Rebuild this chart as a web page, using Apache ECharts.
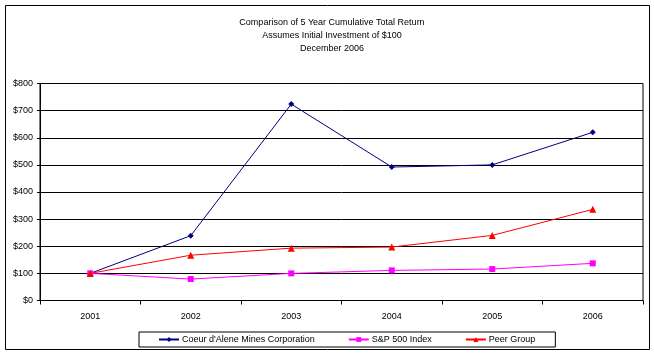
<!DOCTYPE html>
<html>
<head>
<meta charset="utf-8">
<script src="https://cdn.jsdelivr.net/npm/echarts@6/dist/echarts.min.js"></script>
<style>
html,body{margin:0;padding:0;background:#fff;}
#c{width:654px;height:354px;}
</style>
</head>
<body>
<div id="c"></div>
<script>
const categories = ['2001', '2002', '2003', '2004', '2005', '2006'];
const coeurValues = [100, 239, 724, 492, 500, 620];
const spValues = [100, 79, 100, 111, 116, 137];
const peerValues = [100, 167, 193, 197, 240, 336];
const seriesNames = ["Coeur d'Alene Mines Corporation", 'S&P 500 Index', 'Peer Group'];
const titleLines = ['Comparison of 5 Year Cumulative Total Return', 'Assumes Initial Investment of $100', 'December 2006'];

const FONT = 'Liberation Sans, Arial, sans-serif';
const chart = echarts.init(document.getElementById('c'), null, {renderer: 'canvas'});
chart.setOption({
  animation: false,
  backgroundColor: '#fff',
  title: {
    text: titleLines.join('\n'),
    left: 327, top: 11, textAlign: 'center',
    textStyle: {fontFamily: FONT, fontSize: 9, fontWeight: 'normal', color: '#000', lineHeight: 13}
  },
  graphic: [{
    type: 'rect', shape: {x: 5.5, y: 5.5, width: 644, height: 344},
    style: {fill: 'none', stroke: '#000', lineWidth: 1}, silent: true
  }],
  legend: {
    left: 139, top: 332,
    itemWidth: 20, itemHeight: 6, itemGap: 33,
    padding: [3, 20, 3, 19],
    borderColor: '#000', borderWidth: 1,
    textStyle: {fontFamily: FONT, fontSize: 9, color: '#000', padding: [0, 0, 0, -2]},
    data: seriesNames
  },
  grid: {
    left: 40, right: 11, top: 83.5, bottom: 53.5,
    show: true, borderColor: '#000', borderWidth: 1, backgroundColor: '#fff'
  },
  xAxis: {
    type: 'category', data: categories, boundaryGap: true,
    axisLine: {lineStyle: {color: '#000', width: 1}},
    axisTick: {show: true, length: 4, lineStyle: {color: '#000'}},
    axisLabel: {fontFamily: FONT, fontSize: 9, color: '#000', margin: 12}
  },
  yAxis: {
    type: 'value', min: 0, max: 800, interval: 100,
    axisLine: {show: true, lineStyle: {color: '#000', width: 1}},
    axisTick: {show: true, length: 3, lineStyle: {color: '#000'}},
    splitLine: {lineStyle: {color: '#000', width: 1}},
    axisLabel: {fontFamily: FONT, fontSize: 9, color: '#000', margin: 7, formatter: v => '$' + v}
  },
  series: [
    {name: seriesNames[0], type: 'line', data: coeurValues, symbol: 'diamond', symbolSize: 6,
     itemStyle: {color: '#000080'}, lineStyle: {color: '#000080', width: 1}},
    {name: seriesNames[1], type: 'line', data: spValues, symbol: 'rect', symbolSize: 6,
     itemStyle: {color: '#FF00FF'}, lineStyle: {color: '#FF00FF', width: 1}},
    {name: seriesNames[2], type: 'line', data: peerValues, symbol: 'triangle', symbolSize: 7,
     itemStyle: {color: '#FF0000'}, lineStyle: {color: '#FF0000', width: 1}}
  ]
});
</script>
</body>
</html>
